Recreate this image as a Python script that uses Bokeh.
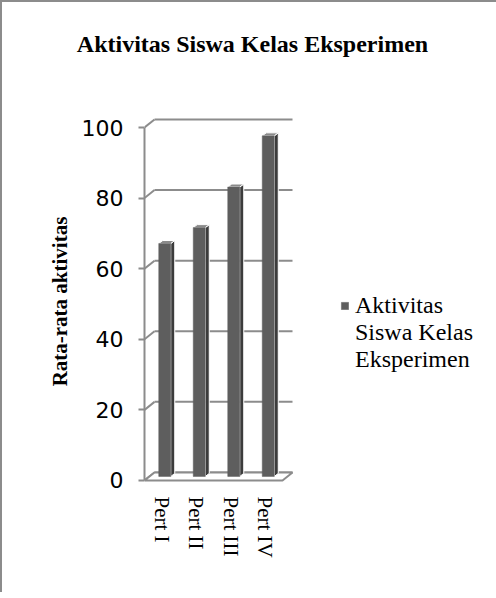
import numpy as np
from bokeh.plotting import figure
from bokeh.models import Range1d, FixedTicker, Legend, LegendItem, Div
from bokeh.layouts import column
from bokeh.embed import file_html
from bokeh.resources import INLINE

# ---------------- data ----------------
title_text = "Aktivitas Siswa Kelas Eksperimen"
categories = ["Pert I", "Pert II", "Pert III", "Pert IV"]
values = [66, 70.5, 82, 96.5]
y_ticks = [0, 20, 40, 60, 80, 100]
y_label = "Rata-rata aktivitas"
legend_lines = ["Aktivitas", "Siswa Kelas", "Eksperimen"]

# ---------------- layout / style ----------------
CAT_PX = 34.5          # pixels per category slot
BORDER_LEFT = 142
FRAME_W = 488 - BORDER_LEFT
Y_PX = 3.53            # pixels per value unit
Y_TOP, Y_BOT = 103.4, -2.0
GRID = "#8c8c8c"
FRONT = "#5e5e5e"
SIDE = "#3c3c3c"
TOPC = "#8a8a8a"

px_x = 1.0 / CAT_PX
px_y = 1.0 / Y_PX
WALL_DX, WALL_DY = 10 * px_x, 8 * px_y
BAR_DX, BAR_DY = 3 * px_x, 4 * px_y
BAR_W = 12 * px_x
SIDE_DX, SIDE_DY = 4 * px_x, 3 * px_y

n = len(categories)
idx = np.arange(n)
vals = np.array(values, dtype=float)
ticks = np.array(y_ticks, dtype=float)

p = figure(width=488, height=510,
           x_range=Range1d(0, FRAME_W / CAT_PX), y_range=Range1d(Y_BOT, Y_TOP),
           output_backend="svg", toolbar_location=None,
           min_border_left=BORDER_LEFT, min_border_right=0,
           min_border_top=33, min_border_bottom=105)
p.xgrid.visible = False
p.ygrid.visible = False
p.outline_line_color = None
p.background_fill_color = "white"
p.border_fill_color = "white"

# back wall gridlines
p.segment(x0=np.full(len(ticks), WALL_DX), y0=ticks + WALL_DY,
          x1=np.full(len(ticks), n + WALL_DX), y1=ticks + WALL_DY,
          line_color=GRID, line_width=2)
# connectors from the front axis to the back wall
p.segment(x0=np.zeros(len(ticks)), y0=ticks,
          x1=np.full(len(ticks), WALL_DX), y1=ticks + WALL_DY,
          line_color=GRID, line_width=2)
# floor
p.patch(x=[0, n, n + WALL_DX, WALL_DX], y=[0, 0, WALL_DY, WALL_DY],
        fill_color="white", line_color=GRID, line_width=2)

# bars
xc = idx + 0.5 + BAR_DX
xl = xc - BAR_W / 2
xr = xc + BAR_W / 2
bot = np.full(n, BAR_DY)
top = vals + BAR_DY

side_xs = [[r, r + SIDE_DX, r + SIDE_DX, r] for r in xr]
side_ys = [[b, b + SIDE_DY, t + SIDE_DY, t] for b, t in zip(bot, top)]
p.patches(xs=side_xs, ys=side_ys, fill_color=SIDE, line_color="white", line_width=1)
cap_xs = [[l, r, r + SIDE_DX, l + SIDE_DX] for l, r in zip(xl, xr)]
cap_ys = [[t, t, t + SIDE_DY, t + SIDE_DY] for t in top]
p.patches(xs=cap_xs, ys=cap_ys, fill_color=TOPC, line_color="white", line_width=1)
front = p.vbar(x=xc, width=BAR_W, bottom=bot, top=top,
               fill_color=FRONT, line_color=FRONT, line_width=0.5)

# y axis
ya = p.yaxis[0]
ya.bounds = (0, 100)
ya.ticker = FixedTicker(ticks=y_ticks)
ya.minor_tick_line_color = None
ya.major_tick_out = 6
ya.major_tick_in = 0
ya.major_tick_line_color = GRID
ya.major_tick_line_width = 2
ya.axis_line_color = GRID
ya.axis_line_width = 2
ya.major_label_text_font = "DejaVu Sans"
ya.major_label_text_font_size = "22px"
ya.major_label_text_color = "black"
ya.major_label_standoff = 15
ya.axis_label = y_label
ya.axis_label_text_font = "Liberation Serif"
ya.axis_label_text_font_style = "bold"
ya.axis_label_text_font_size = "21px"
ya.axis_label_text_color = "black"
ya.axis_label_standoff = 7

# x axis (category labels)
xa = p.xaxis[0]
xa.ticker = FixedTicker(ticks=list(idx + 0.5))
xa.major_label_overrides = {float(i + 0.5): c for i, c in enumerate(categories)}
xa.major_label_orientation = "vertical"
xa.axis_line_color = None
xa.major_tick_line_color = None
xa.minor_tick_line_color = None
xa.major_label_standoff = 3
xa.major_label_text_font = "Liberation Serif"
xa.major_label_text_font_size = "21px"
xa.major_label_text_color = "black"

# legend
dummy = p.scatter(x=[0], y=[0], alpha=0)
items = [LegendItem(label=legend_lines[0], renderers=[front])] + \
        [LegendItem(label=t, renderers=[dummy]) for t in legend_lines[1:]]
legend = Legend(items=items, location=(196, 114), padding=0, margin=0,
                spacing=0, glyph_width=9, glyph_height=9, label_standoff=6,
                label_text_font="Liberation Serif", label_text_font_size="24px",
                label_text_color="black", border_line_color=None,
                background_fill_alpha=0)
p.add_layout(legend, "center")

title = Div(text=('<div style="font-family:\'Liberation Serif\';font-weight:bold;'
                  'font-size:24px;text-align:center;width:486px;padding-top:20px;'
                  'padding-left:5px;color:black">' + title_text + '</div>'),
            width=486, height=70)

layout = column(title, p, styles={"border-left": "2px solid #8c8c8c",
                                   "border-top": "2px solid #8c8c8c",
                                   "background-color": "white"})

open("out.html", "w").write(file_html(layout, INLINE))
